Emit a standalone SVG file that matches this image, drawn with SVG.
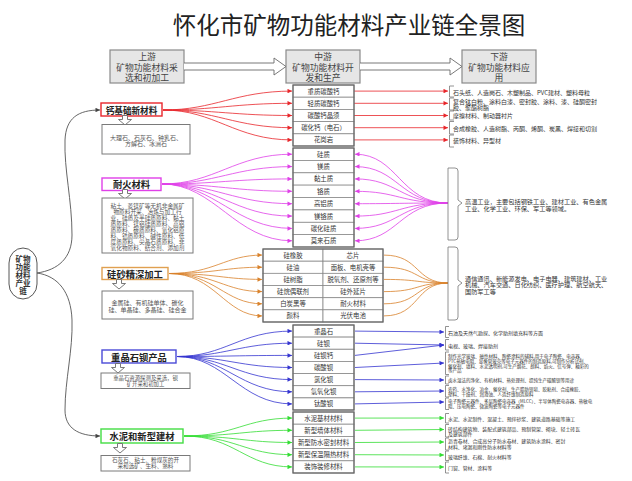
<svg xmlns="http://www.w3.org/2000/svg" width="632" height="481" viewBox="0 0 632 481">
<style>
text{font-family:"Noto Sans CJK SC","Noto Sans",sans-serif;dominant-baseline:central}
.title{font-size:23.5px;fill:#222;text-anchor:middle}
.hdr{fill:#e6e6e6;stroke:#8a8a8a;stroke-width:1.2}
.hdrt{font-size:8.8px;fill:#444;text-anchor:middle}
.cat{fill:#fff;stroke-width:1.4}
.catt{font-size:9.3px;font-weight:bold;fill:#222;text-anchor:middle}
.desc{fill:#fff;stroke:#7a7a7a;stroke-width:1}
.desct{font-size:6px;fill:#555;text-anchor:middle}
.cell{fill:#fff;stroke:#8a8a8a;stroke-width:0.8}
.outer{fill:none;stroke:#666;stroke-width:1.2}
.cellt{font-size:6.4px;fill:#333;text-anchor:middle}
.use{font-size:6px;fill:#333}
.small{font-size:4.5px;fill:#333}
.brk{fill:none;stroke:#777;stroke-width:0.8}
.harrow{fill:#fff;stroke:#6a6a6a;stroke-width:0.9}
.red{fill:none;stroke:#e8262b;stroke-width:0.8}
.mag{fill:none;stroke:#e040e8;stroke-width:0.8}
.org{fill:none;stroke:#d9822b;stroke-width:0.8}
.blu{fill:none;stroke:#3535d0;stroke-width:0.8}
.grn{fill:none;stroke:#33dd33;stroke-width:0.8}
.dk{fill:none;stroke:#555;stroke-width:0.9}
</style>
<defs>
<marker id="mR" viewBox="0 0 10 10" refX="10" refY="5" markerWidth="5" markerHeight="4.5" markerUnits="userSpaceOnUse" orient="auto"><path d="M0,0 L10,5 L0,10 z" fill="#e8262b"/></marker>
<marker id="mM" viewBox="0 0 10 10" refX="10" refY="5" markerWidth="5" markerHeight="4.5" markerUnits="userSpaceOnUse" orient="auto"><path d="M0,0 L10,5 L0,10 z" fill="#e040e8"/></marker>
<marker id="mO" viewBox="0 0 10 10" refX="10" refY="5" markerWidth="5" markerHeight="4.5" markerUnits="userSpaceOnUse" orient="auto"><path d="M0,0 L10,5 L0,10 z" fill="#d9822b"/></marker>
<marker id="mB" viewBox="0 0 10 10" refX="10" refY="5" markerWidth="5" markerHeight="4.5" markerUnits="userSpaceOnUse" orient="auto"><path d="M0,0 L10,5 L0,10 z" fill="#3535d0"/></marker>
<marker id="mG" viewBox="0 0 10 10" refX="10" refY="5" markerWidth="5" markerHeight="4.5" markerUnits="userSpaceOnUse" orient="auto"><path d="M0,0 L10,5 L0,10 z" fill="#33dd33"/></marker>
<marker id="mK" viewBox="0 0 10 10" refX="10" refY="5" markerWidth="5" markerHeight="4.5" markerUnits="userSpaceOnUse" orient="auto"><path d="M0,0 L10,5 L0,10 z" fill="#444"/></marker>
<path id="hol" d="M-2.5,0 H2.5 V4 H6.5 L0,9.5 L-6.5,4 H-2.5 Z"/>
</defs>
<rect width="632" height="481" fill="#fff"/>
<text class="title" x="349" y="24">怀化市矿物功能材料产业链全景图</text>

<g id="header">
<g id="h-up"><rect class="hdr" x="110" y="50" width="74" height="33"/><text class="hdrt" x="147"><tspan x="147" y="56">上游</tspan><tspan x="147" y="66.5">矿物功能材料采</tspan><tspan x="147" y="77">选和初加工</tspan></text></g>
<g id="h-mid"><rect class="hdr" x="286" y="50" width="74" height="33"/><text class="hdrt" x="323"><tspan x="323" y="56">中游</tspan><tspan x="323" y="66.5">矿物功能材料开</tspan><tspan x="323" y="77">发和生产</tspan></text></g>
<g id="h-down"><rect class="hdr" x="462" y="50" width="74" height="33"/><text class="hdrt" x="499"><tspan x="499" y="56">下游</tspan><tspan x="499" y="66.5">矿物功能材料应</tspan><tspan x="499" y="77">用</tspan></text></g>
<path class="harrow" d="M184,63 H274 V58 L286,66.5 L274,75 V70 H184"/>
<path class="harrow" d="M360,63 H450 V58 L462,66.5 L450,75 V70 H360"/>
</g>

<g id="root"><rect x="9" y="248" width="28" height="51" rx="14" ry="15" fill="#fff" stroke="#444" stroke-width="0.9"/>
<text class="catt" style="font-size:7.5px;fill:#333"><tspan x="23" y="258">矿物</tspan><tspan x="23" y="266">功能</tspan><tspan x="23" y="274">材料</tspan><tspan x="23" y="282">产业</tspan><tspan x="23" y="290">链</tspan></text></g>

<g id="connectors">
<path class="dk" marker-end="url(#mK)" d="M37,273 C58,270 72,258 72,235 C72,200 64,170 65,140 C66,118 78,110 100,110"/>
<path class="dk" marker-end="url(#mK)" d="M37,273 C58,276 71,292 72,320 C73,350 65,380 65,410 C65,428 78,436 100,436"/>
<g class="red" marker-end="url(#mR)">
<path d="M163,110 C215,110 235,91.1 292,91.1"/>
<path d="M163,110 C215,110 235,103.3 292,103.3"/>
<path d="M163,110 C215,110 235,115.5 292,115.5"/>
<path d="M163,110 C215,110 235,127.7 292,127.7"/>
<path d="M163,110 C215,110 235,139.9 292,139.9"/>
</g>
<g class="red" marker-end="url(#mR)">
<path d="M354,91.1 H448"/><path d="M354,103.3 H448"/><path d="M354,115.5 H448"/><path d="M354,127.7 H448"/><path d="M354,139.9 H448"/>
</g>
<g class="mag" marker-end="url(#mM)">
<path d="M162,184 C215,184 235,154.2 292,154.2"/>
<path d="M162,184 C215,184 235,166.6 292,166.6"/>
<path d="M162,184 C215,184 235,178.9 292,178.9"/>
<path d="M162,184 C215,184 235,191.3 292,191.3"/>
<path d="M162,184 C215,184 235,203.7 292,203.7"/>
<path d="M162,184 C215,184 235,216.1 292,216.1"/>
<path d="M162,184 C215,184 235,228.4 292,228.4"/>
<path d="M162,184 C215,184 235,240.8 292,240.8"/>
<path d="M448,203 C400,203 398,154.2 355,154.2"/>
<path d="M448,203 C400,203 398,166.6 355,166.6"/>
<path d="M448,203 C400,203 398,178.9 355,178.9"/>
<path d="M448,203 C400,203 398,191.3 355,191.3"/>
<path d="M448,203 C400,203 398,203.7 355,203.7"/>
<path d="M448,203 C400,203 398,216.1 355,216.1"/>
<path d="M448,203 C400,203 398,228.4 355,228.4"/>
<path d="M448,203 C400,203 398,240.8 355,240.8"/>
</g>
<g class="org" marker-end="url(#mO)">
<path d="M169,273.5 C215,273.5 225,255.1 262,255.1"/>
<path d="M169,273.5 C215,273.5 225,267.2 262,267.2"/>
<path d="M169,273.5 C215,273.5 225,279.4 262,279.4"/>
<path d="M169,273.5 C215,273.5 225,291.6 262,291.6"/>
<path d="M169,273.5 C215,273.5 225,303.8 262,303.8"/>
<path d="M169,273.5 C215,273.5 225,315.9 262,315.9"/>
</g>
<g class="org">
<path d="M384,255.1 C420,255.1 415,283 448,283"/>
<path d="M384,267.2 C420,267.2 415,283 448,283"/>
<path d="M384,279.4 C420,279.4 415,283 448,283"/>
<path d="M384,291.6 C420,291.6 415,283 448,283"/>
<path d="M384,303.8 C420,303.8 415,283 448,283"/>
<path d="M384,315.9 C420,315.9 415,283 448,283"/>
</g>
<g class="blu" marker-end="url(#mB)">
<path d="M177,356.5 C225,356.5 240,331.1 292,331.1"/>
<path d="M177,356.5 C225,356.5 240,343.2 292,343.2"/>
<path d="M177,356.5 C225,356.5 240,355.4 292,355.4"/>
<path d="M177,356.5 C225,356.5 240,367.5 292,367.5"/>
<path d="M177,356.5 C225,356.5 240,379.6 292,379.6"/>
<path d="M177,356.5 C225,356.5 240,391.8 292,391.8"/>
<path d="M177,356.5 C225,356.5 240,403.9 292,403.9"/>
<path d="M355,331.1 L444,332"/>
<path d="M355,343.2 L444,345"/>
<path d="M355,355.4 L444,345"/>
<path d="M355,367.5 L444,363"/>
<path d="M355,379.6 L444,380"/>
<path d="M355,391.8 L444,391"/>
<path d="M355,403.9 L444,402"/>
</g>
<g class="grn" marker-end="url(#mG)">
<path d="M184,436 C235,436 245,418.1 292,418.1"/>
<path d="M184,436 C235,436 245,430.3 292,430.3"/>
<path d="M184,436 C235,436 245,442.5 292,442.5"/>
<path d="M184,436 C235,436 245,454.7 292,454.7"/>
<path d="M184,436 C235,436 245,466.9 292,466.9"/>
<path d="M355,418.1 L444,418"/>
<path d="M355,430.3 L444,429.5"/>
<path d="M355,442.5 L444,442"/>
<path d="M355,454.7 L444,455"/>
<path d="M355,466.9 L444,467"/>
</g>
</g>

<g id="cat-ca"><rect class="cat" x="101" y="103" width="61" height="13" stroke="#e8262b"/><text class="catt" style="font-size:8.6px" x="131.5" y="109.5">钙基础新材料</text></g>
<g id="desc-ca"><use href="#hol" class="harrow" x="125" y="115.5"/><rect class="desc" x="102" y="124.5" width="88" height="29.5"/><text class="desct"><tspan x="146" y="136.5">大理石、石灰石、钟乳石、</tspan><tspan x="146" y="143">方解石、冰洲石</tspan></text></g>

<g id="cat-ref"><rect class="cat" x="102" y="178" width="59" height="12.5" stroke="#e040e8"/><text class="catt" x="131.5" y="184.2">耐火材料</text></g>
<g id="desc-ref"><use href="#hol" class="harrow" x="125" y="189.5"/><rect class="desc" x="102" y="198" width="91" height="55"/><text class="desct" style="font-size:5.7px"><tspan x="147.5" y="205">粘土、菱镁矿等无机非金属矿</tspan><tspan x="147.5" y="211">物原料开采、冶炼与加工行</tspan><tspan x="147.5" y="217">业，硅质及半硅质原料、黏土</tspan><tspan x="147.5" y="223">质原料、镁铝硅质原料、高铝</tspan><tspan x="147.5" y="229">质原料、碳质原料、氧化铝原</tspan><tspan x="147.5" y="235">料、锆质原料、碱性原料、低</tspan><tspan x="147.5" y="241">度质原料、尖晶石质原料、非</tspan><tspan x="147.5" y="247">氧化物原料、结合剂、添加剂</tspan></text></g>

<g id="cat-si"><rect class="cat" x="102" y="267.5" width="66" height="12" stroke="#e0a050"/><text class="catt" x="135" y="273.5">硅砂精深加工</text></g>
<g id="desc-si"><use href="#hol" class="harrow" x="119" y="279.5"/><rect class="desc" x="102" y="291" width="91" height="28"/><text class="desct"><tspan x="147.5" y="302">金属硅、有机硅单体、碳化</tspan><tspan x="147.5" y="308.5">硅、单晶硅、多晶硅、硅合金</tspan></text></g>

<g id="cat-ba"><rect class="cat" x="102" y="350" width="74" height="13" stroke="#4a4ad8"/><text class="catt" x="139" y="356.5">重晶石钡产品</text></g>
<g id="desc-ba"><use href="#hol" class="harrow" x="118" y="363.5"/><rect class="desc" x="101" y="373" width="89" height="15.5"/><text class="desct" style="font-size:5.4px"><tspan x="145.5" y="377.7">重晶石资源探测及采选，钡</tspan><tspan x="145.5" y="383.6">矿开采和初加工</tspan></text></g>

<g id="cat-gr"><rect class="cat" x="101" y="429" width="82" height="14" stroke="#44dd44"/><text class="catt" x="142" y="436">水泥和新型建材</text></g>
<g id="desc-gr"><use href="#hol" class="harrow" x="120" y="443.5"/><rect class="desc" x="101" y="455.5" width="89" height="15.5"/><text class="desct" style="font-size:5.6px"><tspan x="145.5" y="460">石灰石、粘土、粉煤灰的开</tspan><tspan x="145.5" y="466.3">采和选矿、生料、熟料</tspan></text></g>

<g id="mid-ca">
<rect class="cell" x="293" y="85" width="61" height="12.2"/><text class="cellt" x="323.5" y="91.1">重质碳酸钙</text>
<rect class="cell" x="293" y="97.2" width="61" height="12.2"/><text class="cellt" x="323.5" y="103.3">轻质碳酸钙</text>
<rect class="cell" x="293" y="109.4" width="61" height="12.2"/><text class="cellt" x="323.5" y="115.5">碳酸钙晶须</text>
<rect class="cell" x="293" y="121.6" width="61" height="12.2"/><text class="cellt" x="323.5" y="127.7">碳化钙（电石）</text>
<rect class="cell" x="293" y="133.8" width="61" height="12.2"/><text class="cellt" x="323.5" y="139.9">花岗岩</text>
<rect class="outer" x="293" y="85" width="61" height="61"/>
</g>
<g id="mid-ref">
<rect class="cell" x="293" y="148" width="61" height="12.4"/><text class="cellt" x="323.5" y="154.2">硅质</text>
<rect class="cell" x="293" y="160.4" width="61" height="12.4"/><text class="cellt" x="323.5" y="166.6">镁质</text>
<rect class="cell" x="293" y="172.8" width="61" height="12.4"/><text class="cellt" x="323.5" y="178.9">黏土质</text>
<rect class="cell" x="293" y="185.1" width="61" height="12.4"/><text class="cellt" x="323.5" y="191.3">铬质</text>
<rect class="cell" x="293" y="197.5" width="61" height="12.4"/><text class="cellt" x="323.5" y="203.7">高铝质</text>
<rect class="cell" x="293" y="209.9" width="61" height="12.4"/><text class="cellt" x="323.5" y="216.1">镁铬质</text>
<rect class="cell" x="293" y="222.3" width="61" height="12.4"/><text class="cellt" x="323.5" y="228.4">碳化硅质</text>
<rect class="cell" x="293" y="234.6" width="61" height="12.4"/><text class="cellt" x="323.5" y="240.8">莫来石质</text>
<rect class="outer" x="293" y="148" width="61" height="99"/>
</g>
<g id="mid-si">
<rect class="cell" x="263" y="249" width="60" height="12.2"/><text class="cellt" x="293" y="255.1">硅橡胶</text>
<rect class="cell" x="263" y="261.2" width="60" height="12.2"/><text class="cellt" x="293" y="267.2">硅油</text>
<rect class="cell" x="263" y="273.3" width="60" height="12.2"/><text class="cellt" x="293" y="279.4">硅树脂</text>
<rect class="cell" x="263" y="285.5" width="60" height="12.2"/><text class="cellt" x="293" y="291.6">硅烷偶联剂</text>
<rect class="cell" x="263" y="297.7" width="60" height="12.2"/><text class="cellt" x="293" y="303.8">白炭黑等</text>
<rect class="cell" x="263" y="309.8" width="60" height="12.2"/><text class="cellt" x="293" y="315.9">颜料</text>
<rect class="cell" x="323" y="249" width="60" height="12.2"/><text class="cellt" x="353" y="255.1">芯片</text>
<rect class="cell" x="323" y="261.2" width="60" height="12.2"/><text class="cellt" x="353" y="267.2">面板、电机壳等</text>
<rect class="cell" x="323" y="273.3" width="60" height="12.2"/><text class="cellt" x="353" y="279.4">脱氧剂、还原剂等</text>
<rect class="cell" x="323" y="285.5" width="60" height="12.2"/><text class="cellt" x="353" y="291.6">硅外延片</text>
<rect class="cell" x="323" y="297.7" width="60" height="12.2"/><text class="cellt" x="353" y="303.8">耐火材料</text>
<rect class="cell" x="323" y="309.8" width="60" height="12.2"/><text class="cellt" x="353" y="315.9">光伏电池</text>
<rect class="outer" x="263" y="249" width="120" height="73"/>
</g>
<g id="mid-ba">
<rect class="cell" x="293" y="325" width="61" height="12.1"/><text class="cellt" x="323.5" y="331.1">重晶石</text>
<rect class="cell" x="293" y="337.1" width="61" height="12.1"/><text class="cellt" x="323.5" y="343.2">硅钡</text>
<rect class="cell" x="293" y="349.3" width="61" height="12.1"/><text class="cellt" x="323.5" y="355.4">硅钡钙</text>
<rect class="cell" x="293" y="361.4" width="61" height="12.1"/><text class="cellt" x="323.5" y="367.5">碳酸钡</text>
<rect class="cell" x="293" y="373.6" width="61" height="12.1"/><text class="cellt" x="323.5" y="379.6">氯化钡</text>
<rect class="cell" x="293" y="385.7" width="61" height="12.1"/><text class="cellt" x="323.5" y="391.8">氢氧化钡</text>
<rect class="cell" x="293" y="397.9" width="61" height="12.1"/><text class="cellt" x="323.5" y="403.9">钛酸钡</text>
<rect class="outer" x="293" y="325" width="61" height="85"/>
</g>
<g id="mid-gr">
<rect class="cell" x="293" y="412" width="61" height="12.2"/><text class="cellt" x="323.5" y="418.1">水泥基材材料</text>
<rect class="cell" x="293" y="424.2" width="61" height="12.2"/><text class="cellt" x="323.5" y="430.3">新型墙体材料</text>
<rect class="cell" x="293" y="436.4" width="61" height="12.2"/><text class="cellt" x="323.5" y="442.5">新型防水密封材料</text>
<rect class="cell" x="293" y="448.6" width="61" height="12.2"/><text class="cellt" x="323.5" y="454.7">新型保温隔热材料</text>
<rect class="cell" x="293" y="460.8" width="61" height="12.2"/><text class="cellt" x="323.5" y="466.9">装饰装修材料</text>
<rect class="outer" x="293" y="412" width="61" height="61"/>
</g>

<g id="use-ca">
<path class="brk" d="M454,86 H449.5 V97 H454 M454,98 H449.5 V110 H454 M454,111 H449.5 V120 H454 M454,121.5 H449.5 V134 H454 M454,135 H449.5 V147 H454"/>
<text class="use"><tspan x="453" y="91.5">石头纸、人造岗石、木塑制品、PVC建材、塑料母粒</tspan><tspan x="453" y="101">复合钛白粉、涂料白漆、密封胶、涂料、漆、硅酮密封</tspan><tspan x="453" y="107.2">胶、聚酯树脂</tspan><tspan x="453" y="115">摩擦材料、制动器衬片</tspan><tspan x="453" y="127.5">合成橡胶、人造树脂、丙酮、烯酮、炭黑、焊接和切割</tspan><tspan x="453" y="140">装饰材料、异型材</tspan></text>
</g>
<g id="use-ref">
<path class="brk" d="M448,168 H455 Q458,168 458,171 V200 L462,203 L458,206 V237 Q458,240 455,240 H448 Z"/>
<text class="use" style="font-size:6.2px"><tspan x="465" y="201">高温工业，主要包括钢铁工业、建材工业、有色金属</tspan><tspan x="465" y="207.5">工业、化学工业、环保、军工等领域。</tspan></text>
</g>
<g id="use-si">
<path class="brk" d="M448,247 H455 Q458,247 458,250 V280 L462,283 L458,286 V317 Q458,320 455,320 H448 Z"/>
<text class="use" style="font-size:6.2px"><tspan x="465" y="277.5">通信通讯、新能源发电、电子电器、建筑建材、工业</tspan><tspan x="465" y="284">机械、汽车交通、日化纺织、医疗护理、航空航天、</tspan><tspan x="465" y="290.5">国防军工等</tspan></text>
</g>
<g id="use-ba">
<path class="brk" d="M449,326.5 H445.5 V337.5 H449 M449,339.5 H445.5 V350 H449 M449,352 H445.5 V374.5 H449 M449,376 H445.5 V384 H449 M449,385.5 H445.5 V397 H449 M449,398 H445.5 V409.5 H449"/>
<text class="small" style="font-size:5px"><tspan x="448" y="332">石油及天然气勘探、化学助剂填充料等方面</tspan><tspan x="448" y="345">电视、玻璃、焊接助剂</tspan></text>
<text class="small"><tspan x="448" y="356">制作光学玻璃、磁性材料、陶瓷涂料的辅料,用于电子陶瓷、电容器、</tspan><tspan x="448" y="360.8">PTC热敏电阻、显像管玻壳等电子元器件的制造原料,可制作分析试剂、</tspan><tspan x="448" y="365.6">催化剂、填料、水泥透明剂,可生产烟花、颜料、焰火、信号弹、釉彩的</tspan><tspan x="448" y="370.4">等产品</tspan><tspan x="448" y="380">卤水湿法的净化、有机材料、热处理剂、提纯生产碳酸钡等用途</tspan><tspan x="448" y="388.5">农药、水净化、冶金、催化剂、生产脂肪钡皂、胶粘剂、合成橡胶、</tspan><tspan x="448" y="393.5">塑料、干燥剂、润滑油、人造纤维制造原料</tspan><tspan x="448" y="401">电子陶瓷元器件、多层陶瓷电容器（MLCC）、半导体陶瓷电容器、热敏电</tspan><tspan x="448" y="406">阻、压电陶瓷、微波陶瓷等电子元器件</tspan></text>
</g>
<g id="use-gr">
<path class="brk" d="M449,413.5 H445.5 V423 H449 M449,424.5 H445.5 V437 H449 M449,438 H445.5 V450 H449 M449,451 H445.5 V460.5 H449 M449,462 H445.5 V473 H449"/>
<text class="small" style="font-size:4.9px"><tspan x="448" y="418">水泥、水泥制件、混凝土、预拌砂浆、建筑道路基础等施工</tspan><tspan x="448" y="428">砖结构建筑物、装配式建筑部品、预制管架、砌块、轻土砖瓦</tspan><tspan x="448" y="433.4">及建筑部件</tspan><tspan x="448" y="440">沥青卷材、合成高分子防水卷材、建筑防水涂料、密封</tspan><tspan x="448" y="445.5">材料、堵漏和刚性防水材料等</tspan><tspan x="448" y="455.5">玻璃纤维、石棉、耐火材料等</tspan><tspan x="448" y="467">门窗、管材、涂料等</tspan></text>
</g>
</svg>
